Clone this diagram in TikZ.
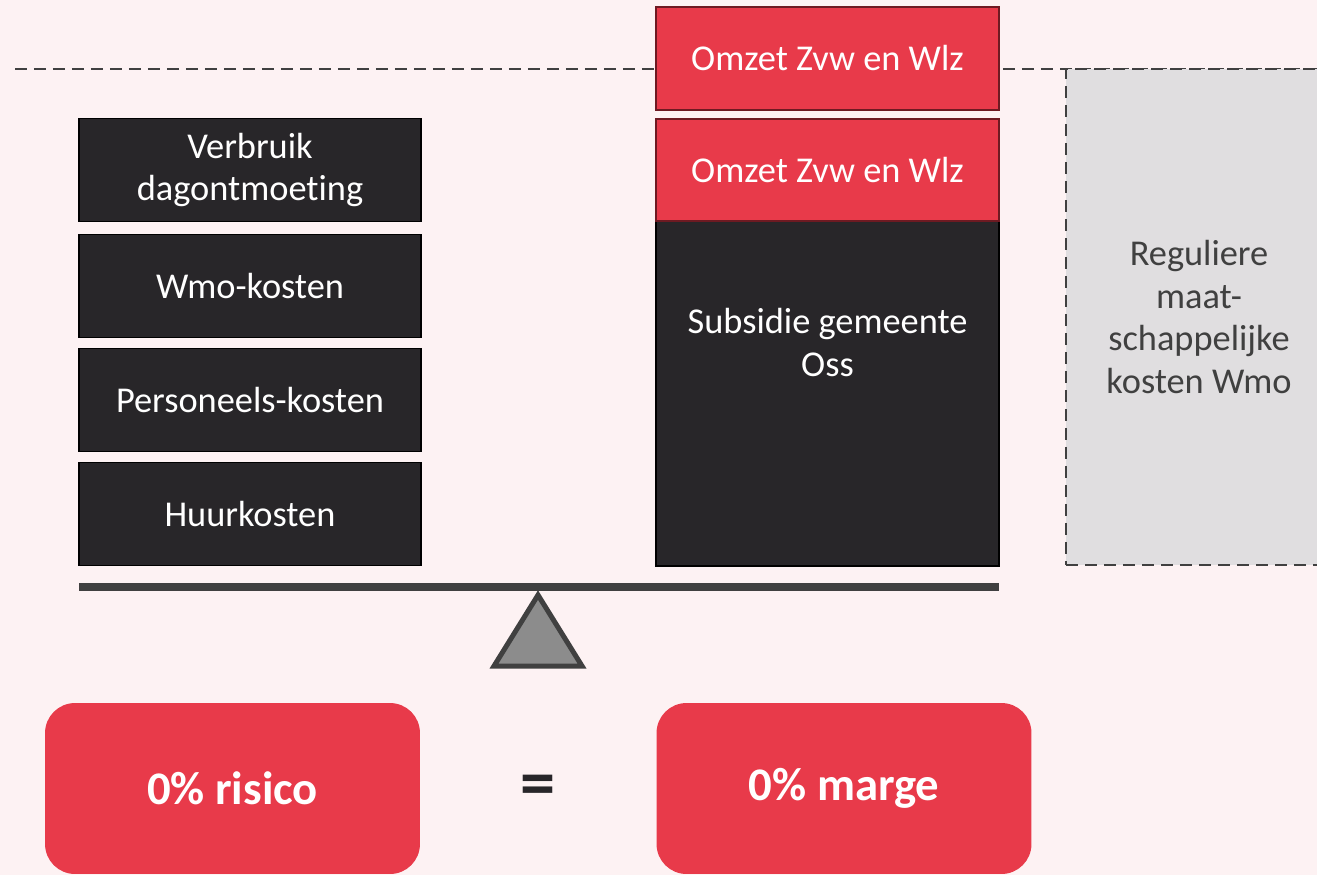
\documentclass[tikz,border=0pt]{standalone}
\usepackage{fontspec}
\setmainfont{Carlito}[Ligatures=NoCommon]
\definecolor{bg}{HTML}{FDF2F3}
\definecolor{omzetred}{HTML}{E83A4A}
\definecolor{omzetrim}{HTML}{6E1A22}
\definecolor{darkbox}{HTML}{282629}
\definecolor{beamgray}{HTML}{404040}
\definecolor{trigray}{HTML}{8C8C8C}
\definecolor{wmogray}{HTML}{E0DEE0}
\tikzset{
  cost/.style={draw=black,fill=darkbox,text=white,line width=0.03cm,minimum width=6.84cm,minimum height=2.06cm,
    align=center,inner sep=0pt,font=\fontsize{20.7}{24.4}\selectfont},
  omzet/.style={cost,draw=omzetrim,fill=omzetred},
  result/.style={fill=omzetred,rounded corners=0.6cm,minimum width=7.5cm,minimum height=3.42cm,inner sep=0pt,
    text=white,font=\fontsize{26.6}{32}\selectfont\bfseries},
  dashline/.style={draw=beamgray,line width=0.05cm,dash pattern=on 0.24cm off 0.14cm}
}
\begin{document}
\begin{tikzpicture}[x=0.02cm,y=-0.02cm]
\fill[bg] (0,0) rectangle (1317,875);
\useasboundingbox (0,0) rectangle (1317,875);
\draw[dashline] (15,69) coordinate(lineL) -- (1317,69) coordinate(lineR);
\node[dashline,fill=wmogray,minimum width=5.32cm,minimum height=9.92cm,align=center,text=beamgray,
  font=\fontsize{20.7}{24.4}\selectfont] (wmo) at (1199,317) {Reguliere\\maat-\\schappelijke\\kosten Wmo};
\node[cost] (verbruik) at (250,170) {Verbruik\\dagontmoeting};
\node[cost] (wmokosten) at (250,286) {Wmo-kosten};
\node[cost] (personeel) at (250,400) {Personeels-kosten};
\node[cost] (huur) at (250,514) {Huurkosten};
\node[cost,minimum width=6.86cm,minimum height=8.94cm] (subsidie) at (827.5,342.5) {Subsidie gemeente\\Oss};
\node[omzet,minimum width=6.86cm,minimum height=2.04cm] (omzetA) at (827.5,170) {Omzet Zvw en Wlz};
\node[omzet,minimum width=6.86cm] (omzetB) at (827.5,58.5) {Omzet Zvw en Wlz};
\draw[fill=trigray,draw=beamgray,line width=0.1cm] (538,595) coordinate(apex) -- (582,666) -- (494,666) -- cycle;
\draw[beamgray,line width=0.16cm] (79,587) coordinate(beamL) -- (999,587) coordinate(beamR);
\node[result] (risico) at (232.5,788.5) {0\% risico};
\node[result] (marge) at (844,788.5) {0\% marge};
\node[text=darkbox,font=\fontsize{40}{44}\selectfont\bfseries] (gelijk) at (538,791) {=};
\end{tikzpicture}
\end{document}
